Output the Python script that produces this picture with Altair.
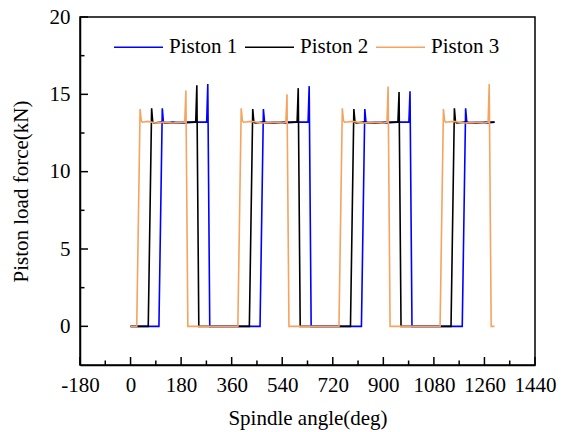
import altair as alt
import pandas as pd

# Piston 1 (blue)
p1_angle = [0, 101, 113, 117, 121, 150, 190, 230, 271, 275, 282,
            461, 473, 477, 481, 510, 550, 590, 632, 636, 643,
            822, 834, 838, 842, 870, 910, 950, 991, 995, 1002,
            1181, 1193, 1197, 1201, 1230, 1270, 1296]
p1_force = [0, 0, 14.1, 13.2, 13.15, 13.2, 13.15, 13.2, 13.2, 15.66, 0,
            0, 14.05, 13.2, 13.15, 13.2, 13.15, 13.2, 13.2, 15.53, 0,
            0, 14.05, 13.2, 13.15, 13.2, 13.15, 13.2, 13.2, 15.2, 0,
            0, 14.1, 13.2, 13.15, 13.2, 13.15, 13.2]

# Piston 2 (black)
p2_angle = [0, 63, 75, 79, 83, 110, 150, 190, 232, 236, 243,
            423, 435, 439, 443, 470, 510, 550, 593, 597, 604,
            783, 795, 799, 803, 830, 870, 910, 952, 956, 963,
            1141, 1153, 1157, 1161, 1190, 1230, 1270, 1296]
p2_force = [0, 0, 14.1, 13.2, 13.15, 13.2, 13.15, 13.2, 13.2, 15.58, 0,
            0, 14.05, 13.2, 13.15, 13.2, 13.15, 13.2, 13.2, 15.4, 0,
            0, 14.05, 13.2, 13.15, 13.2, 13.15, 13.2, 13.2, 15.15, 0,
            0, 14.1, 13.2, 13.15, 13.2, 13.15, 13.2, 13.2]

# Piston 3 (orange)
p3_angle = [0, 22, 34, 38, 42, 60, 90, 120, 150, 180, 193, 197, 204,
            382, 394, 398, 402, 430, 470, 510, 540, 553, 557, 564,
            742, 754, 758, 762, 790, 830, 870, 900, 913, 917, 924,
            1102, 1114, 1118, 1122, 1150, 1190, 1230, 1260, 1273, 1277, 1284, 1296]
p3_force = [0, 0, 14.05, 13.3, 13.2, 13.25, 13.15, 13.2, 13.15, 13.2, 13.2, 15.25, 0,
            0, 14.1, 13.3, 13.2, 13.25, 13.15, 13.2, 13.15, 13.2, 15.0, 0,
            0, 14.1, 13.3, 13.2, 13.25, 13.15, 13.2, 13.15, 13.2, 15.5, 0,
            0, 14.05, 13.3, 13.2, 13.25, 13.15, 13.2, 13.15, 13.2, 15.66, 0, 0]

series_names = ["Piston 1", "Piston 2", "Piston 3"]
series_colors = ["#0000FF", "#000000", "#F5A35F"]

x_major = [-180, 0, 180, 360, 540, 720, 900, 1080, 1260, 1440]
x_minor = [-90, 90, 270, 450, 630, 810, 990, 1170, 1350]
y_major = [0, 5, 10, 15, 20]
y_minor = [2.5, 7.5, 12.5, 17.5]

rows = []
for name, ang, frc in zip(series_names, [p1_angle, p2_angle, p3_angle],
                          [p1_force, p2_force, p3_force]):
    for a, f in zip(ang, frc):
        rows.append({"angle": a, "force": f, "series": name})
df = pd.DataFrame(rows)

FONT = "Liberation Serif"
FS = 21
W, H = 455, 348

xscale = alt.Scale(domain=[-180, 1440], nice=False, zero=False)
yscale = alt.Scale(domain=[-2.5, 20], nice=False, zero=False)

xaxis = alt.Axis(values=x_major, title="Spindle angle(deg)",
                 labelExpr="'' + datum.value",
                 ticks=False, tickSize=0, grid=False, labelPadding=9,
                 titlePadding=12, labelFlush=False)
yaxis = alt.Axis(values=y_major, title="Piston load force(kN)",
                 labelExpr="'' + datum.value",
                 ticks=False, tickSize=0, grid=False, labelPadding=10,
                 titlePadding=18, labelFlush=False)

lines = alt.Chart(df).mark_line(strokeWidth=1.6).encode(
    x=alt.X("angle:Q", scale=xscale, axis=xaxis),
    y=alt.Y("force:Q", scale=yscale, axis=yaxis),
    color=alt.Color("series:N",
                    scale=alt.Scale(domain=series_names, range=series_colors),
                    legend=alt.Legend(title=None, orient="none", legendX=33, legendY=4.5,
                                      direction="horizontal", symbolType="stroke",
                                      symbolSize=2401, symbolStrokeWidth=1.6,
                                      labelFont=FONT, labelFontSize=FS, labelColor="black",
                                      labelOffset=5, columnPadding=3, padding=0)),
    detail="series:N",
)

def xticks(vals, length):
    d = pd.DataFrame({"angle": vals})
    return alt.Chart(d).mark_rule(color="black", strokeWidth=1.5).encode(
        x=alt.X("angle:Q", scale=xscale, axis=xaxis),
        y=alt.value(H), y2=alt.value(H - length))

def yticks(vals, length):
    d = pd.DataFrame({"force": vals})
    return alt.Chart(d).mark_rule(color="black", strokeWidth=1.5).encode(
        y=alt.Y("force:Q", scale=yscale, axis=yaxis),
        x=alt.value(0), x2=alt.value(length))

chart = alt.layer(
    lines,
    xticks(x_major, 8), xticks(x_minor, 4.5),
    yticks(y_major, 8), yticks(y_minor, 4.5),
).properties(
    width=W, height=H,
    autosize=alt.AutoSizeParams(type="none"),
    padding={"left": 80, "top": 17, "right": 31, "bottom": 67},
).configure_view(
    stroke="black", strokeWidth=1.5
).configure_axis(
    labelFont=FONT, labelFontSize=FS, labelColor="black",
    titleFont=FONT, titleFontSize=FS, titleFontWeight="normal", titleColor="black",
    domainColor="black", domainWidth=1.5,
)

chart.save("out.html", embed_options={"renderer": "svg", "actions": False})
